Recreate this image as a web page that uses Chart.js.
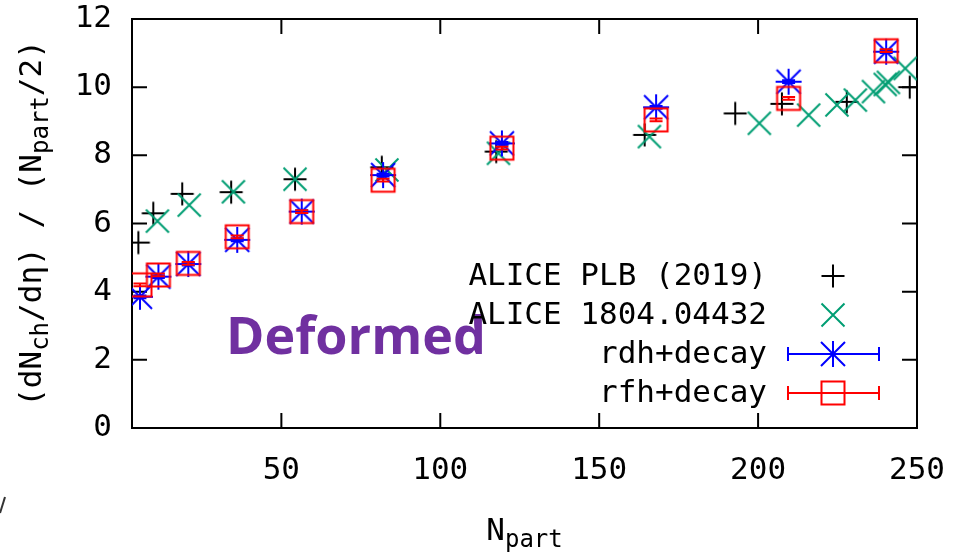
<!DOCTYPE html>
<html lang="en">
<head>
    <meta charset="UTF-8">
    <title>dNch/deta per participant pair vs Npart</title>
    <script src="https://cdn.jsdelivr.net/npm/chart.js"></script>
    <style>
        body { margin: 0; background: #fff; }
        #wrap { width: 954px; height: 554px; }
    </style>
</head>
<body>
<div id="wrap">
    <canvas id="nch-chart" width="954" height="554"></canvas>
</div>
<script>
    // axis ticks
    const xTicks = [50, 100, 150, 200, 250];
    const yTicks = [0, 2, 4, 6, 8, 10, 12];

    // ALICE PLB (2019)
    const plbNpart = [5.0, 9.7, 18.8, 34.2, 54.3, 81.6, 117.6, 164.3, 192.8, 207.5, 227.9, 247.7];
    const plbVal = [5.44, 6.30, 6.87, 6.92, 7.30, 7.65, 8.11, 8.60, 9.23, 9.51, 9.57, 10.00];

    // ALICE 1804.04432
    const xeNpart = [11.0, 21.0, 34.9, 54.3, 83.2, 118.3, 165.8, 200.4, 215.9, 224.8, 230.6, 236.3, 240.0, 241.0, 246.3];
    const xeVal = [6.07, 6.54, 6.93, 7.30, 7.57, 8.06, 8.55, 8.94, 9.18, 9.48, 9.62, 9.87, 10.08, 10.14, 10.55];

    // model points (rdh+decay, rfh+decay)
    const modelNpart = [5.5, 11.3, 20.7, 36.1, 56.4, 82.0, 119.4, 167.9, 209.6, 240.3];
    const rdhVal = [3.85, 4.44, 4.81, 5.52, 6.35, 7.42, 8.35, 9.41, 10.16, 11.04];
    const rdhErr = [0.04, 0.04, 0.04, 0.04, 0.04, 0.04, 0.04, 0.04, 0.04, 0.04];
    const rfhVal = [4.20, 4.49, 4.83, 5.61, 6.35, 7.27, 8.21, 9.04, 9.67, 11.07];
    const rfhErr = [0.04, 0.04, 0.04, 0.04, 0.04, 0.04, 0.04, 0.04, 0.04, 0.04];

    const MONO = "'DejaVu Sans Mono', monospace";
    const BLACK = '#000000';
    const GREEN = '#009e73';
    const BLUE = '#0000ff';
    const RED = '#ff0000';

    // gnuplot-like point symbols as small canvases
    function makeMarker(kind, color) {
        const s = 30, m = s / 2;
        const c = document.createElement('canvas');
        c.width = s; c.height = s;
        const g = c.getContext('2d');
        g.strokeStyle = color;
        g.lineWidth = 2;
        g.beginPath();
        if (kind === 'plus' || kind === 'star') {
            const a = kind === 'plus' ? 11.5 : 13;
            g.moveTo(m - a, m); g.lineTo(m + a, m);
            g.moveTo(m, m - a); g.lineTo(m, m + a);
        }
        if (kind === 'x' || kind === 'star') {
            const a = kind === 'x' ? 11.5 : 12;
            g.moveTo(m - a, m - a); g.lineTo(m + a, m + a);
            g.moveTo(m - a, m + a); g.lineTo(m + a, m - a);
        }
        if (kind === 'square') {
            g.rect(m - 11.5, m - 11.5, 23, 23);
        }
        g.stroke();
        return c;
    }

    const plusImg = makeMarker('plus', BLACK);
    const xImg = makeMarker('x', GREEN);
    const starImg = makeMarker('star', BLUE);
    const squareImg = makeMarker('square', RED);

    function pts(xs, ys) {
        return xs.map((x, i) => ({ x: x, y: ys[i] }));
    }

    // border + inward ticks on all four sides
    const framePlugin = {
        id: 'frame',
        beforeDatasetsDraw(chart) {
            const ctx = chart.ctx, a = chart.chartArea;
            const xs = chart.scales.x, ys = chart.scales.y;
            const tl = 15;
            ctx.save();
            ctx.strokeStyle = '#000';
            ctx.lineWidth = 2;
            ctx.beginPath();
            xTicks.forEach(v => {
                const px = xs.getPixelForValue(v);
                if (px > a.left + 1 && px < a.right - 1) {
                    ctx.moveTo(px, a.bottom); ctx.lineTo(px, a.bottom - tl);
                    ctx.moveTo(px, a.top); ctx.lineTo(px, a.top + tl);
                }
            });
            yTicks.forEach(v => {
                const py = ys.getPixelForValue(v);
                if (py > a.top + 1 && py < a.bottom - 1) {
                    ctx.moveTo(a.left, py); ctx.lineTo(a.left + tl, py);
                    ctx.moveTo(a.right, py); ctx.lineTo(a.right - tl, py);
                }
            });
            ctx.stroke();
            ctx.strokeRect(a.left, a.top, a.right - a.left, a.bottom - a.top);
            ctx.restore();
        }
    };

    // small y error bars of the model points
    const errPlugin = {
        id: 'errbars',
        afterDatasetDraw(chart, args) {
            const ds = chart.data.datasets[args.index];
            if (!ds.err) return;
            const ctx = chart.ctx, xs = chart.scales.x, ys = chart.scales.y;
            ctx.save();
            ctx.strokeStyle = ds.errColor;
            ctx.lineWidth = 2;
            ctx.beginPath();
            ds.data.forEach((p, i) => {
                const px = xs.getPixelForValue(p.x);
                const y1 = ys.getPixelForValue(p.y - ds.err[i]);
                const y2 = ys.getPixelForValue(p.y + ds.err[i]);
                ctx.moveTo(px, y1); ctx.lineTo(px, y2);
                ctx.moveTo(px - 6.5, y1); ctx.lineTo(px + 6.5, y1);
                ctx.moveTo(px - 6.5, y2); ctx.lineTo(px + 6.5, y2);
            });
            ctx.stroke();
            ctx.restore();
        }
    };

    // text with subscripts, centred on (0,0) baseline
    function drawRich(ctx, parts, size, subSize, subShift) {
        let total = 0;
        parts.forEach(p => {
            ctx.font = (p.sub ? subSize : size) + 'px ' + MONO;
            p.w = ctx.measureText(p.t).width;
            total += p.w;
        });
        let x = -total / 2;
        ctx.textAlign = 'left';
        ctx.textBaseline = 'alphabetic';
        parts.forEach(p => {
            ctx.font = (p.sub ? subSize : size) + 'px ' + MONO;
            ctx.fillText(p.t, x, p.sub ? subShift : 0);
            x += p.w;
        });
    }

    const labelPlugin = {
        id: 'labels',
        afterDraw(chart) {
            const ctx = chart.ctx, a = chart.chartArea;
            ctx.save();
            ctx.fillStyle = '#000';

            // y title
            ctx.save();
            ctx.translate(41, (a.top + a.bottom) / 2);
            ctx.rotate(-Math.PI / 2);
            drawRich(ctx, [
                { t: '(dN' }, { t: 'ch', sub: true }, { t: '/dη) / (N' },
                { t: 'part', sub: true }, { t: '/2)' }
            ], 31, 24, 7);
            ctx.restore();

            // x title
            ctx.save();
            ctx.translate((a.left + a.right) / 2, 540);
            drawRich(ctx, [{ t: 'N' }, { t: 'part', sub: true }], 31, 24, 7);
            ctx.restore();

            // Deformed
            ctx.fillStyle = '#7030a0';
            ctx.font = "bold 52px 'Open Sans', sans-serif";
            ctx.textAlign = 'left';
            ctx.textBaseline = 'alphabetic';
            ctx.fillText('Deformed', 226, 354);

            // legend
            const rows = [
                { t: 'ALICE PLB (2019)', img: plusImg, y: 276 },
                { t: 'ALICE 1804.04432', img: xImg, y: 315 },
                { t: 'rdh+decay', img: starImg, y: 354, bar: BLUE },
                { t: 'rfh+decay', img: squareImg, y: 393, bar: RED }
            ];
            const tx = 767, mx = 833, bx1 = 788, bx2 = 879;
            rows.forEach(r => {
                ctx.fillStyle = '#000';
                ctx.font = '31px ' + MONO;
                ctx.textAlign = 'right';
                ctx.textBaseline = 'middle';
                ctx.fillText(r.t, tx, r.y + 1);
                if (r.bar) {
                    ctx.strokeStyle = r.bar;
                    ctx.lineWidth = 2;
                    ctx.beginPath();
                    ctx.moveTo(bx1, r.y); ctx.lineTo(bx2, r.y);
                    ctx.moveTo(bx1, r.y - 7); ctx.lineTo(bx1, r.y + 7);
                    ctx.moveTo(bx2, r.y - 7); ctx.lineTo(bx2, r.y + 7);
                    ctx.stroke();
                }
                ctx.drawImage(r.img, mx - r.img.width / 2, r.y - r.img.height / 2);
            });

            // stray mark at the left edge of the slide
            ctx.strokeStyle = '#333';
            ctx.lineWidth = 2;
            ctx.beginPath();
            ctx.moveTo(0, 513); ctx.lineTo(5, 497);
            ctx.stroke();
            ctx.restore();
        }
    };

    const ctx = document.getElementById('nch-chart').getContext('2d');
    const nchChart = new Chart(ctx, {
        type: 'scatter',
        data: {
            datasets: [
                {
                    label: 'ALICE PLB (2019)',
                    data: pts(plbNpart, plbVal),
                    pointStyle: plusImg,
                    order: 3
                },
                {
                    label: 'ALICE 1804.04432',
                    data: pts(xeNpart, xeVal),
                    pointStyle: xImg,
                    order: 2
                },
                {
                    label: 'rdh+decay',
                    data: pts(modelNpart, rdhVal),
                    pointStyle: starImg,
                    err: rdhErr,
                    errColor: BLUE,
                    order: 1
                },
                {
                    label: 'rfh+decay',
                    data: pts(modelNpart, rfhVal),
                    pointStyle: squareImg,
                    err: rfhErr,
                    errColor: RED,
                    order: 0
                }
            ]
        },
        options: {
            responsive: false,
            animation: false,
            events: [],
            layout: {
                padding: { top: 19, right: 37, left: 0, bottom: 0 }
            },
            plugins: {
                legend: { display: false },
                tooltip: { enabled: false }
            },
            scales: {
                x: {
                    type: 'linear',
                    min: 3,
                    max: 250,
                    afterBuildTicks: s => { s.ticks = xTicks.map(v => ({ value: v })); },
                    afterFit: s => {
                        s.height = 126;
                        s.paddingLeft = 0; s.paddingRight = 0;
                    },
                    grid: { display: false, drawTicks: false },
                    border: { display: false },
                    ticks: {
                        font: { family: MONO, size: 31 },
                        color: '#000',
                        padding: 24,
                        maxRotation: 0,
                        autoSkip: false
                    }
                },
                y: {
                    type: 'linear',
                    min: 0,
                    max: 12,
                    afterBuildTicks: s => { s.ticks = yTicks.map(v => ({ value: v })); },
                    afterFit: s => {
                        s.width = 132;
                        s.paddingTop = 0; s.paddingBottom = 0;
                    },
                    grid: { display: false, drawTicks: false },
                    border: { display: false },
                    ticks: {
                        font: { family: MONO, size: 31 },
                        color: '#000',
                        padding: 20,
                        autoSkip: false
                    }
                }
            }
        },
        plugins: [framePlugin, errPlugin, labelPlugin]
    });
</script>
</body>
</html>
